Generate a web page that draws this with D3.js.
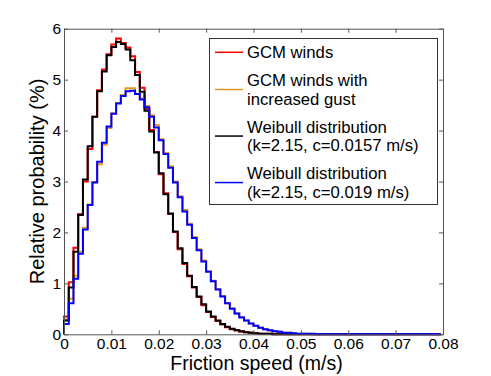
<!DOCTYPE html>
<html>
<head>
<meta charset="utf-8">
<script src="https://cdn.jsdelivr.net/npm/d3@7"></script>
<style>
  body { margin: 0; background: #fff; }
  text { font-family: "Liberation Sans", Arial, sans-serif; }
</style>
</head>
<body>
<div id="chart"></div>
<script>
// bin width of the histograms (m/s), 80 bins from 0 to 0.08
var binWidth = 0.001;

// relative probability (%) per bin
var gcmWinds = [0.35,1.02,1.70,2.36,3.00,3.64,4.27,4.79,5.20,5.50,5.69,5.81,5.72,5.63,5.46,5.15,4.84,4.43,4.01,3.58,
  3.14,2.77,2.36,2.01,1.67,1.38,1.14,0.92,0.73,0.57,0.44,0.34,0.26,0.19,0.14,0.10,0.08,0.05,0.04,0.03,
  0.02,0.01,0.01,0.01,0,0,0,0,0,0,0,0,0,0,0,0,0,0,0,0,
  0,0,0,0,0,0,0,0,0,0,0,0,0,0,0,0,0,0,0,0];
var gcmGust = [0.29,0.70,1.15,1.62,2.09,2.55,2.99,3.34,3.72,4.05,4.34,4.54,4.70,4.83,4.83,4.72,4.63,4.48,4.30,4.11,
  3.83,3.56,3.30,3.00,2.71,2.44,2.17,1.91,1.67,1.45,1.24,1.05,0.89,0.75,0.61,0.51,0.41,0.34,0.27,0.21,
  0.17,0.13,0.10,0.08,0.06,0.05,0.03,0.03,0.02,0.01,0.01,0.01,0,0,0,0,0,0,0,0,
  0,0,0,0,0,0,0,0,0,0,0,0,0,0,0,0,0,0,0,0];
var weibullA = [0.27,0.92,1.62,2.34,3.04,3.69,4.27,4.77,5.16,5.48,5.64,5.74,5.70,5.59,5.38,5.09,4.76,4.39,3.98,3.57,
  3.16,2.75,2.37,2.02,1.69,1.40,1.15,0.93,0.74,0.59,0.45,0.35,0.27,0.20,0.15,0.11,0.08,0.06,0.04,0.03,
  0.02,0.01,0.01,0.01,0,0,0,0,0,0,0,0,0,0,0,0,0,0,0,0,
  0,0,0,0,0,0,0,0,0,0,0,0,0,0,0,0,0,0,0,0];
var weibullB = [0.20,0.61,1.09,1.58,2.06,2.54,2.98,3.39,3.76,4.08,4.33,4.53,4.68,4.77,4.78,4.72,4.61,4.46,4.27,4.06,
  3.81,3.54,3.27,2.98,2.69,2.41,2.15,1.89,1.65,1.43,1.23,1.04,0.88,0.74,0.61,0.50,0.41,0.33,0.27,0.21,
  0.17,0.13,0.10,0.08,0.06,0.05,0.03,0.03,0.02,0.01,0.01,0.01,0.01,0,0,0,0,0,0,0,
  0,0,0,0,0,0,0,0,0,0,0,0,0,0,0,0,0,0,0,0];

var xTicks = [0,0.01,0.02,0.03,0.04,0.05,0.06,0.07,0.08];
var yTicks = [0,1,2,3,4,5,6];

var seriesNames = ["GCM winds", ["GCM winds with", "increased gust"],
  ["Weibull distribution", "(k=2.15, c=0.0157 m/s)"], ["Weibull distribution", "(k=2.15, c=0.019 m/s)"]];
var seriesColors = ["#ff0000", "#e8961e", "#000000", "#0000ff"];
var seriesData = [gcmWinds, gcmGust, weibullA, weibullB];

var width = 491, height = 376;
var margin = {top: 28.7, right: 48, bottom: 41.7, left: 64};

var svg = d3.select("#chart").append("svg")
    .attr("width", width)
    .attr("height", height);

var x = d3.scaleLinear().domain([0, 0.08]).range([margin.left, width - margin.right]);
var y = d3.scaleLinear().domain([0, 6]).range([height - margin.bottom, margin.top]);

var axisColor = "#555";

// curves: red, orange, black, blue (blue on top)
var line = d3.line()
    .x(function(d) { return x(d[0]); })
    .y(function(d) { return y(d[1]); })
    .curve(d3.curveStepAfter);

seriesData.forEach(function(vals, s) {
  var pts = [[0, 0]];
  vals.forEach(function(v, i) { pts.push([i * binWidth, v]); });
  // last step only runs half a bin, as in the figure
  pts.push([(vals.length - 0.5) * binWidth, vals[vals.length - 1]]);
  svg.append("path")
     .attr("d", line(pts))
     .attr("fill", "none")
     .attr("stroke", seriesColors[s])
     .attr("stroke-width", 2)
     .attr("stroke-linejoin", "miter");
});

// axes box with inward ticks
var tickLen = 4;
svg.append("g")
   .attr("transform", "translate(0," + y(0) + ")")
   .call(d3.axisBottom(x).tickValues(xTicks).tickSizeInner(-tickLen).tickSizeOuter(0)
     .tickPadding(4)
     .tickFormat(function(d) { return d === 0 ? "0" : d3.format(".2f")(d); }));
svg.append("g")
   .attr("transform", "translate(0," + y(6) + ")")
   .call(d3.axisTop(x).tickValues(xTicks).tickSizeInner(-tickLen).tickSizeOuter(0).tickFormat(""));
svg.append("g")
   .attr("transform", "translate(" + x(0) + ",0)")
   .call(d3.axisLeft(y).tickValues(yTicks).tickSizeInner(-tickLen).tickSizeOuter(0).tickPadding(3)
     .tickFormat(d3.format("d")));
svg.append("g")
   .attr("transform", "translate(" + x(0.08) + ",0)")
   .call(d3.axisRight(y).tickValues(yTicks).tickSizeInner(-tickLen).tickSizeOuter(0).tickFormat(""));

svg.selectAll(".domain").attr("stroke", axisColor);
svg.selectAll(".tick line").attr("stroke", axisColor);
svg.selectAll(".tick text")
   .attr("fill", "#000")
   .style("font-size", "15.5px")
   .style("font-family", "'Liberation Sans', Arial, sans-serif");

// axis labels
svg.append("text")
   .attr("x", (x(0) + x(0.08)) / 2 + 3)
   .attr("y", 370)
   .attr("text-anchor", "middle")
   .style("font-size", "19.5px")
   .text("Friction speed (m/s)");

svg.append("text")
   .attr("transform", "translate(" + 44 + "," + (y(0) + y(6)) / 2 + ") rotate(-90)")
   .attr("text-anchor", "middle")
   .style("font-size", "20px")
   .text("Relative probability (%)");

// legend
var legend = svg.append("g");
legend.append("rect")
   .attr("x", 209.5).attr("y", 38.5)
   .attr("width", 228).attr("height", 166)
   .attr("fill", "#fff")
   .attr("stroke", "#333")
   .attr("stroke-width", 1);

var rowY = 52.3;
seriesNames.forEach(function(name, s) {
  var rows = Array.isArray(name) ? name : [name];
  var midY = rowY + (rows.length - 1) * 18.5 / 2;
  legend.append("line")
     .attr("x1", 215).attr("x2", 243)
     .attr("y1", midY).attr("y2", midY)
     .attr("stroke", seriesColors[s])
     .attr("stroke-width", 1.5);
  rows.forEach(function(r, j) {
    legend.append("text")
       .attr("x", 247)
       .attr("y", rowY + j * 18.5)
       .attr("dy", "0.35em")
       .style("font-size", "16.7px")
       .text(r);
  });
  rowY += (rows.length - 1) * 18.5 + 28;
});
</script>
</body>
</html>
